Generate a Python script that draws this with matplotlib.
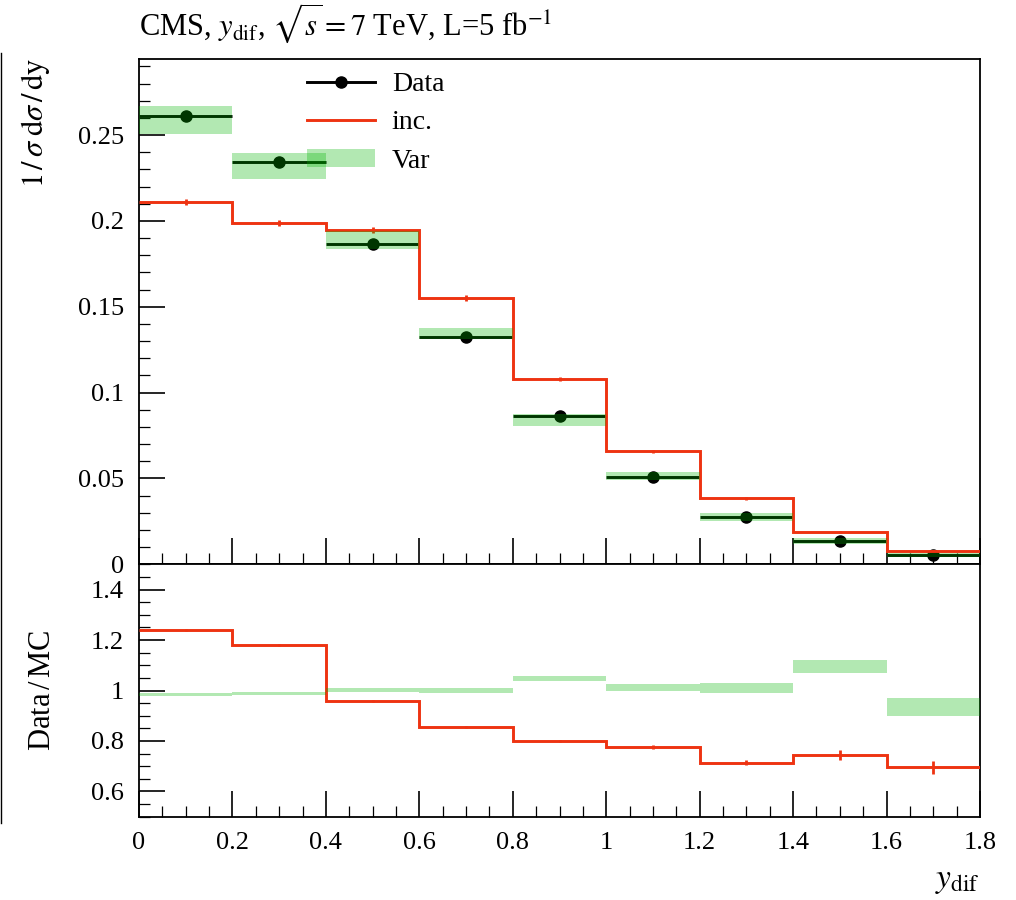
import matplotlib
matplotlib.use("Agg")
import matplotlib.pyplot as plt
from matplotlib.lines import Line2D
from matplotlib.patches import Patch
from matplotlib.ticker import MultipleLocator, FuncFormatter
import numpy as np

# binning in y_dif
edges = [0.0, 0.2, 0.4, 0.6, 0.8, 1.0, 1.2, 1.4, 1.6, 1.8]

# normalised cross section, upper panel
data = [0.2611, 0.2341, 0.1864, 0.1322, 0.0862, 0.0510, 0.0274, 0.0137, 0.0054]
inc = [0.2108, 0.1988, 0.1947, 0.1549, 0.1079, 0.0658, 0.0384, 0.0188, 0.0079]
inc_err = [0.0018, 0.0019, 0.0019, 0.0018, 0.0014, 0.0010, 0.0008, 0.0006, 0.0004]
var = [0.2588, 0.2320, 0.1889, 0.1345, 0.0840, 0.0514, 0.0275, 0.0137, 0.0052]
var_err = [0.0082, 0.0076, 0.0051, 0.0032, 0.0035, 0.0023, 0.0023, 0.0018, 0.0012]

# Data/MC ratios, lower panel
ratio_inc = [1.240, 1.181, 0.958, 0.854, 0.799, 0.775, 0.713, 0.744, 0.695]
ratio_inc_err = [0.003, 0.005, 0.004, 0.004, 0.004, 0.008, 0.010, 0.019, 0.027]
ratio_var = [0.986, 0.990, 1.003, 1.000, 1.049, 1.013, 1.011, 1.095, 0.934]
ratio_var_err = [0.006, 0.006, 0.007, 0.008, 0.010, 0.013, 0.019, 0.027, 0.037]

RED = "#EE3311"
GREEN = "#00b600"

plt.rcParams["font.family"] = ["Liberation Serif", "DejaVu Serif"]
plt.rcParams["mathtext.fontset"] = "stix"

edges = np.array(edges)
centres = 0.5 * (edges[1:] + edges[:-1])
widths = np.diff(edges)

fig = plt.figure(figsize=(10.16, 9.0), dpi=100)
ax = fig.add_axes([139 / 1016, 1 - 564.3 / 900, 841 / 1016, 505 / 900])
axr = fig.add_axes([139 / 1016, 1 - 816.7 / 900, 841 / 1016, 252.4 / 900], sharex=ax)

# --- main panel
ax.errorbar(centres, data, xerr=widths / 2, fmt="o", color="black", ms=8,
            elinewidth=2.1, capsize=0, zorder=2)
ax.stairs(inc, edges, color=RED, lw=2.1, baseline=None, zorder=3)
ax.errorbar(centres, inc, yerr=inc_err, fmt="none", ecolor=RED, elinewidth=2, capsize=0, zorder=3)
ax.bar(centres, 2 * np.array(var_err), bottom=np.array(var) - np.array(var_err),
       width=widths, color=GREEN, alpha=0.3, lw=0, zorder=4)

# --- ratio panel
axr.stairs(ratio_inc, edges, color=RED, lw=2.1, baseline=None, zorder=3)
axr.errorbar(centres, ratio_inc, yerr=ratio_inc_err, fmt="none", ecolor=RED,
             elinewidth=2, capsize=0, zorder=3)
axr.bar(centres, 2 * np.array(ratio_var_err),
        bottom=np.array(ratio_var) - np.array(ratio_var_err),
        width=widths, color=GREEN, alpha=0.3, lw=0, zorder=4)

ax.set_xlim(0, 1.8)
ax.set_ylim(0, 0.2941)
axr.set_ylim(0.5, 1.5)

fmt = FuncFormatter(lambda v, p: "%g" % round(v, 4))
for a in (ax, axr):
    a.xaxis.set_major_locator(MultipleLocator(0.2))
    a.xaxis.set_minor_locator(MultipleLocator(0.05))
    a.tick_params(which="both", direction="in", top=False, right=False,
                  labelsize=19, pad=11)
    a.tick_params(which="major", length=19, width=1.2)
    a.tick_params(which="minor", length=8, width=0.9)
    for s in a.spines.values():
        s.set_linewidth(1.3)
    a.yaxis.set_major_formatter(fmt)
    a.xaxis.set_major_formatter(fmt)

ax.yaxis.set_major_locator(MultipleLocator(0.05))
ax.yaxis.set_minor_locator(MultipleLocator(0.01))
axr.yaxis.set_major_locator(MultipleLocator(0.2))
axr.yaxis.set_minor_locator(MultipleLocator(0.05))
ax.tick_params(axis="x", labelbottom=False)

# legend
handles = [
    Line2D([], [], color="black", lw=2.1, marker="o", ms=8),
    Line2D([], [], color=RED, lw=2.1),
    Patch(facecolor=GREEN, alpha=0.3, lw=0),
]
ax.legend(handles, ["Data", "inc.", "Var"], loc="upper left",
          bbox_to_anchor=(0.1998, 0.975), frameon=False, fontsize=20,
          borderpad=0, borderaxespad=0, handlelength=2.45, handleheight=0.6,
          handletextpad=0.6, labelspacing=0.48, numpoints=1)

# labels
fig.text(139 / 1016, 1 - 35 / 900, r"CMS, $y_{\rm dif}$, $\sqrt{s} = 7$ TeV, L=5 fb$^{-1}$",
         fontsize=22, ha="left", va="baseline")
fig.text(36 / 1016, 1 - 58 / 900, r"$1\,/\,\sigma\;\mathrm{d}\sigma\,/\,\mathrm{dy}$",
         fontsize=22, rotation=90, ha="center", va="top")
fig.text(42 / 1016, 1 - 690 / 900, r"Data$\,$/$\,$MC", fontsize=22, rotation=90,
         ha="center", va="center")
fig.text(980 / 1016, 1 - 896 / 900, r"$y_{\rm dif}$", fontsize=24, ha="right", va="bottom")

fig.add_artist(Line2D([0.0008, 0.0008], [1 - 53 / 900, 1 - 823 / 900],
                      transform=fig.transFigure, color="black", lw=1))

fig.savefig("out.png", dpi=100)
